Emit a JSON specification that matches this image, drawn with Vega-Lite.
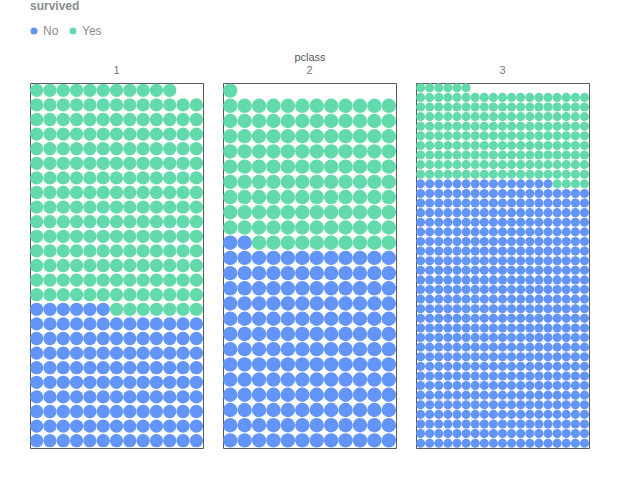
{
"$schema": "https://vega.github.io/schema/vega-lite/v6.json",
"padding": {"left": 29, "top": 1, "right": 5, "bottom": 5},
"bounds": "flush",
"data": {"values": [
{"id":1,"pclass":1,"survived":"No"},{"id":2,"pclass":1,"survived":"No"},{"id":3,"pclass":1,"survived":"No"},{"id":4,"pclass":1,"survived":"No"},{"id":5,"pclass":1,"survived":"No"},{"id":6,"pclass":1,"survived":"No"},{"id":7,"pclass":1,"survived":"No"},{"id":8,"pclass":1,"survived":"No"},{"id":9,"pclass":1,"survived":"No"},{"id":10,"pclass":1,"survived":"No"},
{"id":11,"pclass":1,"survived":"No"},{"id":12,"pclass":1,"survived":"No"},{"id":13,"pclass":1,"survived":"No"},{"id":14,"pclass":1,"survived":"No"},{"id":15,"pclass":1,"survived":"No"},{"id":16,"pclass":1,"survived":"No"},{"id":17,"pclass":1,"survived":"No"},{"id":18,"pclass":1,"survived":"No"},{"id":19,"pclass":1,"survived":"No"},{"id":20,"pclass":1,"survived":"No"},
{"id":21,"pclass":1,"survived":"No"},{"id":22,"pclass":1,"survived":"No"},{"id":23,"pclass":1,"survived":"No"},{"id":24,"pclass":1,"survived":"No"},{"id":25,"pclass":1,"survived":"No"},{"id":26,"pclass":1,"survived":"No"},{"id":27,"pclass":1,"survived":"No"},{"id":28,"pclass":1,"survived":"No"},{"id":29,"pclass":1,"survived":"No"},{"id":30,"pclass":1,"survived":"No"},
{"id":31,"pclass":1,"survived":"No"},{"id":32,"pclass":1,"survived":"No"},{"id":33,"pclass":1,"survived":"No"},{"id":34,"pclass":1,"survived":"No"},{"id":35,"pclass":1,"survived":"No"},{"id":36,"pclass":1,"survived":"No"},{"id":37,"pclass":1,"survived":"No"},{"id":38,"pclass":1,"survived":"No"},{"id":39,"pclass":1,"survived":"No"},{"id":40,"pclass":1,"survived":"No"},
{"id":41,"pclass":1,"survived":"No"},{"id":42,"pclass":1,"survived":"No"},{"id":43,"pclass":1,"survived":"No"},{"id":44,"pclass":1,"survived":"No"},{"id":45,"pclass":1,"survived":"No"},{"id":46,"pclass":1,"survived":"No"},{"id":47,"pclass":1,"survived":"No"},{"id":48,"pclass":1,"survived":"No"},{"id":49,"pclass":1,"survived":"No"},{"id":50,"pclass":1,"survived":"No"},
{"id":51,"pclass":1,"survived":"No"},{"id":52,"pclass":1,"survived":"No"},{"id":53,"pclass":1,"survived":"No"},{"id":54,"pclass":1,"survived":"No"},{"id":55,"pclass":1,"survived":"No"},{"id":56,"pclass":1,"survived":"No"},{"id":57,"pclass":1,"survived":"No"},{"id":58,"pclass":1,"survived":"No"},{"id":59,"pclass":1,"survived":"No"},{"id":60,"pclass":1,"survived":"No"},
{"id":61,"pclass":1,"survived":"No"},{"id":62,"pclass":1,"survived":"No"},{"id":63,"pclass":1,"survived":"No"},{"id":64,"pclass":1,"survived":"No"},{"id":65,"pclass":1,"survived":"No"},{"id":66,"pclass":1,"survived":"No"},{"id":67,"pclass":1,"survived":"No"},{"id":68,"pclass":1,"survived":"No"},{"id":69,"pclass":1,"survived":"No"},{"id":70,"pclass":1,"survived":"No"},
{"id":71,"pclass":1,"survived":"No"},{"id":72,"pclass":1,"survived":"No"},{"id":73,"pclass":1,"survived":"No"},{"id":74,"pclass":1,"survived":"No"},{"id":75,"pclass":1,"survived":"No"},{"id":76,"pclass":1,"survived":"No"},{"id":77,"pclass":1,"survived":"No"},{"id":78,"pclass":1,"survived":"No"},{"id":79,"pclass":1,"survived":"No"},{"id":80,"pclass":1,"survived":"No"},
{"id":81,"pclass":1,"survived":"No"},{"id":82,"pclass":1,"survived":"No"},{"id":83,"pclass":1,"survived":"No"},{"id":84,"pclass":1,"survived":"No"},{"id":85,"pclass":1,"survived":"No"},{"id":86,"pclass":1,"survived":"No"},{"id":87,"pclass":1,"survived":"No"},{"id":88,"pclass":1,"survived":"No"},{"id":89,"pclass":1,"survived":"No"},{"id":90,"pclass":1,"survived":"No"},
{"id":91,"pclass":1,"survived":"No"},{"id":92,"pclass":1,"survived":"No"},{"id":93,"pclass":1,"survived":"No"},{"id":94,"pclass":1,"survived":"No"},{"id":95,"pclass":1,"survived":"No"},{"id":96,"pclass":1,"survived":"No"},{"id":97,"pclass":1,"survived":"No"},{"id":98,"pclass":1,"survived":"No"},{"id":99,"pclass":1,"survived":"No"},{"id":100,"pclass":1,"survived":"No"},
{"id":101,"pclass":1,"survived":"No"},{"id":102,"pclass":1,"survived":"No"},{"id":103,"pclass":1,"survived":"No"},{"id":104,"pclass":1,"survived":"No"},{"id":105,"pclass":1,"survived":"No"},{"id":106,"pclass":1,"survived":"No"},{"id":107,"pclass":1,"survived":"No"},{"id":108,"pclass":1,"survived":"No"},{"id":109,"pclass":1,"survived":"No"},{"id":110,"pclass":1,"survived":"No"},
{"id":111,"pclass":1,"survived":"No"},{"id":112,"pclass":1,"survived":"No"},{"id":113,"pclass":1,"survived":"No"},{"id":114,"pclass":1,"survived":"No"},{"id":115,"pclass":1,"survived":"No"},{"id":116,"pclass":1,"survived":"No"},{"id":117,"pclass":1,"survived":"No"},{"id":118,"pclass":1,"survived":"No"},{"id":119,"pclass":1,"survived":"No"},{"id":120,"pclass":1,"survived":"No"},
{"id":121,"pclass":1,"survived":"No"},{"id":122,"pclass":1,"survived":"No"},{"id":123,"pclass":1,"survived":"No"},{"id":124,"pclass":1,"survived":"Yes"},{"id":125,"pclass":1,"survived":"Yes"},{"id":126,"pclass":1,"survived":"Yes"},{"id":127,"pclass":1,"survived":"Yes"},{"id":128,"pclass":1,"survived":"Yes"},{"id":129,"pclass":1,"survived":"Yes"},{"id":130,"pclass":1,"survived":"Yes"},
{"id":131,"pclass":1,"survived":"Yes"},{"id":132,"pclass":1,"survived":"Yes"},{"id":133,"pclass":1,"survived":"Yes"},{"id":134,"pclass":1,"survived":"Yes"},{"id":135,"pclass":1,"survived":"Yes"},{"id":136,"pclass":1,"survived":"Yes"},{"id":137,"pclass":1,"survived":"Yes"},{"id":138,"pclass":1,"survived":"Yes"},{"id":139,"pclass":1,"survived":"Yes"},{"id":140,"pclass":1,"survived":"Yes"},
{"id":141,"pclass":1,"survived":"Yes"},{"id":142,"pclass":1,"survived":"Yes"},{"id":143,"pclass":1,"survived":"Yes"},{"id":144,"pclass":1,"survived":"Yes"},{"id":145,"pclass":1,"survived":"Yes"},{"id":146,"pclass":1,"survived":"Yes"},{"id":147,"pclass":1,"survived":"Yes"},{"id":148,"pclass":1,"survived":"Yes"},{"id":149,"pclass":1,"survived":"Yes"},{"id":150,"pclass":1,"survived":"Yes"},
{"id":151,"pclass":1,"survived":"Yes"},{"id":152,"pclass":1,"survived":"Yes"},{"id":153,"pclass":1,"survived":"Yes"},{"id":154,"pclass":1,"survived":"Yes"},{"id":155,"pclass":1,"survived":"Yes"},{"id":156,"pclass":1,"survived":"Yes"},{"id":157,"pclass":1,"survived":"Yes"},{"id":158,"pclass":1,"survived":"Yes"},{"id":159,"pclass":1,"survived":"Yes"},{"id":160,"pclass":1,"survived":"Yes"},
{"id":161,"pclass":1,"survived":"Yes"},{"id":162,"pclass":1,"survived":"Yes"},{"id":163,"pclass":1,"survived":"Yes"},{"id":164,"pclass":1,"survived":"Yes"},{"id":165,"pclass":1,"survived":"Yes"},{"id":166,"pclass":1,"survived":"Yes"},{"id":167,"pclass":1,"survived":"Yes"},{"id":168,"pclass":1,"survived":"Yes"},{"id":169,"pclass":1,"survived":"Yes"},{"id":170,"pclass":1,"survived":"Yes"},
{"id":171,"pclass":1,"survived":"Yes"},{"id":172,"pclass":1,"survived":"Yes"},{"id":173,"pclass":1,"survived":"Yes"},{"id":174,"pclass":1,"survived":"Yes"},{"id":175,"pclass":1,"survived":"Yes"},{"id":176,"pclass":1,"survived":"Yes"},{"id":177,"pclass":1,"survived":"Yes"},{"id":178,"pclass":1,"survived":"Yes"},{"id":179,"pclass":1,"survived":"Yes"},{"id":180,"pclass":1,"survived":"Yes"},
{"id":181,"pclass":1,"survived":"Yes"},{"id":182,"pclass":1,"survived":"Yes"},{"id":183,"pclass":1,"survived":"Yes"},{"id":184,"pclass":1,"survived":"Yes"},{"id":185,"pclass":1,"survived":"Yes"},{"id":186,"pclass":1,"survived":"Yes"},{"id":187,"pclass":1,"survived":"Yes"},{"id":188,"pclass":1,"survived":"Yes"},{"id":189,"pclass":1,"survived":"Yes"},{"id":190,"pclass":1,"survived":"Yes"},
{"id":191,"pclass":1,"survived":"Yes"},{"id":192,"pclass":1,"survived":"Yes"},{"id":193,"pclass":1,"survived":"Yes"},{"id":194,"pclass":1,"survived":"Yes"},{"id":195,"pclass":1,"survived":"Yes"},{"id":196,"pclass":1,"survived":"Yes"},{"id":197,"pclass":1,"survived":"Yes"},{"id":198,"pclass":1,"survived":"Yes"},{"id":199,"pclass":1,"survived":"Yes"},{"id":200,"pclass":1,"survived":"Yes"},
{"id":201,"pclass":1,"survived":"Yes"},{"id":202,"pclass":1,"survived":"Yes"},{"id":203,"pclass":1,"survived":"Yes"},{"id":204,"pclass":1,"survived":"Yes"},{"id":205,"pclass":1,"survived":"Yes"},{"id":206,"pclass":1,"survived":"Yes"},{"id":207,"pclass":1,"survived":"Yes"},{"id":208,"pclass":1,"survived":"Yes"},{"id":209,"pclass":1,"survived":"Yes"},{"id":210,"pclass":1,"survived":"Yes"},
{"id":211,"pclass":1,"survived":"Yes"},{"id":212,"pclass":1,"survived":"Yes"},{"id":213,"pclass":1,"survived":"Yes"},{"id":214,"pclass":1,"survived":"Yes"},{"id":215,"pclass":1,"survived":"Yes"},{"id":216,"pclass":1,"survived":"Yes"},{"id":217,"pclass":1,"survived":"Yes"},{"id":218,"pclass":1,"survived":"Yes"},{"id":219,"pclass":1,"survived":"Yes"},{"id":220,"pclass":1,"survived":"Yes"},
{"id":221,"pclass":1,"survived":"Yes"},{"id":222,"pclass":1,"survived":"Yes"},{"id":223,"pclass":1,"survived":"Yes"},{"id":224,"pclass":1,"survived":"Yes"},{"id":225,"pclass":1,"survived":"Yes"},{"id":226,"pclass":1,"survived":"Yes"},{"id":227,"pclass":1,"survived":"Yes"},{"id":228,"pclass":1,"survived":"Yes"},{"id":229,"pclass":1,"survived":"Yes"},{"id":230,"pclass":1,"survived":"Yes"},
{"id":231,"pclass":1,"survived":"Yes"},{"id":232,"pclass":1,"survived":"Yes"},{"id":233,"pclass":1,"survived":"Yes"},{"id":234,"pclass":1,"survived":"Yes"},{"id":235,"pclass":1,"survived":"Yes"},{"id":236,"pclass":1,"survived":"Yes"},{"id":237,"pclass":1,"survived":"Yes"},{"id":238,"pclass":1,"survived":"Yes"},{"id":239,"pclass":1,"survived":"Yes"},{"id":240,"pclass":1,"survived":"Yes"},
{"id":241,"pclass":1,"survived":"Yes"},{"id":242,"pclass":1,"survived":"Yes"},{"id":243,"pclass":1,"survived":"Yes"},{"id":244,"pclass":1,"survived":"Yes"},{"id":245,"pclass":1,"survived":"Yes"},{"id":246,"pclass":1,"survived":"Yes"},{"id":247,"pclass":1,"survived":"Yes"},{"id":248,"pclass":1,"survived":"Yes"},{"id":249,"pclass":1,"survived":"Yes"},{"id":250,"pclass":1,"survived":"Yes"},
{"id":251,"pclass":1,"survived":"Yes"},{"id":252,"pclass":1,"survived":"Yes"},{"id":253,"pclass":1,"survived":"Yes"},{"id":254,"pclass":1,"survived":"Yes"},{"id":255,"pclass":1,"survived":"Yes"},{"id":256,"pclass":1,"survived":"Yes"},{"id":257,"pclass":1,"survived":"Yes"},{"id":258,"pclass":1,"survived":"Yes"},{"id":259,"pclass":1,"survived":"Yes"},{"id":260,"pclass":1,"survived":"Yes"},
{"id":261,"pclass":1,"survived":"Yes"},{"id":262,"pclass":1,"survived":"Yes"},{"id":263,"pclass":1,"survived":"Yes"},{"id":264,"pclass":1,"survived":"Yes"},{"id":265,"pclass":1,"survived":"Yes"},{"id":266,"pclass":1,"survived":"Yes"},{"id":267,"pclass":1,"survived":"Yes"},{"id":268,"pclass":1,"survived":"Yes"},{"id":269,"pclass":1,"survived":"Yes"},{"id":270,"pclass":1,"survived":"Yes"},
{"id":271,"pclass":1,"survived":"Yes"},{"id":272,"pclass":1,"survived":"Yes"},{"id":273,"pclass":1,"survived":"Yes"},{"id":274,"pclass":1,"survived":"Yes"},{"id":275,"pclass":1,"survived":"Yes"},{"id":276,"pclass":1,"survived":"Yes"},{"id":277,"pclass":1,"survived":"Yes"},{"id":278,"pclass":1,"survived":"Yes"},{"id":279,"pclass":1,"survived":"Yes"},{"id":280,"pclass":1,"survived":"Yes"},
{"id":281,"pclass":1,"survived":"Yes"},{"id":282,"pclass":1,"survived":"Yes"},{"id":283,"pclass":1,"survived":"Yes"},{"id":284,"pclass":1,"survived":"Yes"},{"id":285,"pclass":1,"survived":"Yes"},{"id":286,"pclass":1,"survived":"Yes"},{"id":287,"pclass":1,"survived":"Yes"},{"id":288,"pclass":1,"survived":"Yes"},{"id":289,"pclass":1,"survived":"Yes"},{"id":290,"pclass":1,"survived":"Yes"},
{"id":291,"pclass":1,"survived":"Yes"},{"id":292,"pclass":1,"survived":"Yes"},{"id":293,"pclass":1,"survived":"Yes"},{"id":294,"pclass":1,"survived":"Yes"},{"id":295,"pclass":1,"survived":"Yes"},{"id":296,"pclass":1,"survived":"Yes"},{"id":297,"pclass":1,"survived":"Yes"},{"id":298,"pclass":1,"survived":"Yes"},{"id":299,"pclass":1,"survived":"Yes"},{"id":300,"pclass":1,"survived":"Yes"},
{"id":301,"pclass":1,"survived":"Yes"},{"id":302,"pclass":1,"survived":"Yes"},{"id":303,"pclass":1,"survived":"Yes"},{"id":304,"pclass":1,"survived":"Yes"},{"id":305,"pclass":1,"survived":"Yes"},{"id":306,"pclass":1,"survived":"Yes"},{"id":307,"pclass":1,"survived":"Yes"},{"id":308,"pclass":1,"survived":"Yes"},{"id":309,"pclass":1,"survived":"Yes"},{"id":310,"pclass":1,"survived":"Yes"},
{"id":311,"pclass":1,"survived":"Yes"},{"id":312,"pclass":1,"survived":"Yes"},{"id":313,"pclass":1,"survived":"Yes"},{"id":314,"pclass":1,"survived":"Yes"},{"id":315,"pclass":1,"survived":"Yes"},{"id":316,"pclass":1,"survived":"Yes"},{"id":317,"pclass":1,"survived":"Yes"},{"id":318,"pclass":1,"survived":"Yes"},{"id":319,"pclass":1,"survived":"Yes"},{"id":320,"pclass":1,"survived":"Yes"},
{"id":321,"pclass":1,"survived":"Yes"},{"id":322,"pclass":1,"survived":"Yes"},{"id":323,"pclass":1,"survived":"Yes"},{"id":324,"pclass":2,"survived":"No"},{"id":325,"pclass":2,"survived":"No"},{"id":326,"pclass":2,"survived":"No"},{"id":327,"pclass":2,"survived":"No"},{"id":328,"pclass":2,"survived":"No"},{"id":329,"pclass":2,"survived":"No"},{"id":330,"pclass":2,"survived":"No"},
{"id":331,"pclass":2,"survived":"No"},{"id":332,"pclass":2,"survived":"No"},{"id":333,"pclass":2,"survived":"No"},{"id":334,"pclass":2,"survived":"No"},{"id":335,"pclass":2,"survived":"No"},{"id":336,"pclass":2,"survived":"No"},{"id":337,"pclass":2,"survived":"No"},{"id":338,"pclass":2,"survived":"No"},{"id":339,"pclass":2,"survived":"No"},{"id":340,"pclass":2,"survived":"No"},
{"id":341,"pclass":2,"survived":"No"},{"id":342,"pclass":2,"survived":"No"},{"id":343,"pclass":2,"survived":"No"},{"id":344,"pclass":2,"survived":"No"},{"id":345,"pclass":2,"survived":"No"},{"id":346,"pclass":2,"survived":"No"},{"id":347,"pclass":2,"survived":"No"},{"id":348,"pclass":2,"survived":"No"},{"id":349,"pclass":2,"survived":"No"},{"id":350,"pclass":2,"survived":"No"},
{"id":351,"pclass":2,"survived":"No"},{"id":352,"pclass":2,"survived":"No"},{"id":353,"pclass":2,"survived":"No"},{"id":354,"pclass":2,"survived":"No"},{"id":355,"pclass":2,"survived":"No"},{"id":356,"pclass":2,"survived":"No"},{"id":357,"pclass":2,"survived":"No"},{"id":358,"pclass":2,"survived":"No"},{"id":359,"pclass":2,"survived":"No"},{"id":360,"pclass":2,"survived":"No"},
{"id":361,"pclass":2,"survived":"No"},{"id":362,"pclass":2,"survived":"No"},{"id":363,"pclass":2,"survived":"No"},{"id":364,"pclass":2,"survived":"No"},{"id":365,"pclass":2,"survived":"No"},{"id":366,"pclass":2,"survived":"No"},{"id":367,"pclass":2,"survived":"No"},{"id":368,"pclass":2,"survived":"No"},{"id":369,"pclass":2,"survived":"No"},{"id":370,"pclass":2,"survived":"No"},
{"id":371,"pclass":2,"survived":"No"},{"id":372,"pclass":2,"survived":"No"},{"id":373,"pclass":2,"survived":"No"},{"id":374,"pclass":2,"survived":"No"},{"id":375,"pclass":2,"survived":"No"},{"id":376,"pclass":2,"survived":"No"},{"id":377,"pclass":2,"survived":"No"},{"id":378,"pclass":2,"survived":"No"},{"id":379,"pclass":2,"survived":"No"},{"id":380,"pclass":2,"survived":"No"},
{"id":381,"pclass":2,"survived":"No"},{"id":382,"pclass":2,"survived":"No"},{"id":383,"pclass":2,"survived":"No"},{"id":384,"pclass":2,"survived":"No"},{"id":385,"pclass":2,"survived":"No"},{"id":386,"pclass":2,"survived":"No"},{"id":387,"pclass":2,"survived":"No"},{"id":388,"pclass":2,"survived":"No"},{"id":389,"pclass":2,"survived":"No"},{"id":390,"pclass":2,"survived":"No"},
{"id":391,"pclass":2,"survived":"No"},{"id":392,"pclass":2,"survived":"No"},{"id":393,"pclass":2,"survived":"No"},{"id":394,"pclass":2,"survived":"No"},{"id":395,"pclass":2,"survived":"No"},{"id":396,"pclass":2,"survived":"No"},{"id":397,"pclass":2,"survived":"No"},{"id":398,"pclass":2,"survived":"No"},{"id":399,"pclass":2,"survived":"No"},{"id":400,"pclass":2,"survived":"No"},
{"id":401,"pclass":2,"survived":"No"},{"id":402,"pclass":2,"survived":"No"},{"id":403,"pclass":2,"survived":"No"},{"id":404,"pclass":2,"survived":"No"},{"id":405,"pclass":2,"survived":"No"},{"id":406,"pclass":2,"survived":"No"},{"id":407,"pclass":2,"survived":"No"},{"id":408,"pclass":2,"survived":"No"},{"id":409,"pclass":2,"survived":"No"},{"id":410,"pclass":2,"survived":"No"},
{"id":411,"pclass":2,"survived":"No"},{"id":412,"pclass":2,"survived":"No"},{"id":413,"pclass":2,"survived":"No"},{"id":414,"pclass":2,"survived":"No"},{"id":415,"pclass":2,"survived":"No"},{"id":416,"pclass":2,"survived":"No"},{"id":417,"pclass":2,"survived":"No"},{"id":418,"pclass":2,"survived":"No"},{"id":419,"pclass":2,"survived":"No"},{"id":420,"pclass":2,"survived":"No"},
{"id":421,"pclass":2,"survived":"No"},{"id":422,"pclass":2,"survived":"No"},{"id":423,"pclass":2,"survived":"No"},{"id":424,"pclass":2,"survived":"No"},{"id":425,"pclass":2,"survived":"No"},{"id":426,"pclass":2,"survived":"No"},{"id":427,"pclass":2,"survived":"No"},{"id":428,"pclass":2,"survived":"No"},{"id":429,"pclass":2,"survived":"No"},{"id":430,"pclass":2,"survived":"No"},
{"id":431,"pclass":2,"survived":"No"},{"id":432,"pclass":2,"survived":"No"},{"id":433,"pclass":2,"survived":"No"},{"id":434,"pclass":2,"survived":"No"},{"id":435,"pclass":2,"survived":"No"},{"id":436,"pclass":2,"survived":"No"},{"id":437,"pclass":2,"survived":"No"},{"id":438,"pclass":2,"survived":"No"},{"id":439,"pclass":2,"survived":"No"},{"id":440,"pclass":2,"survived":"No"},
{"id":441,"pclass":2,"survived":"No"},{"id":442,"pclass":2,"survived":"No"},{"id":443,"pclass":2,"survived":"No"},{"id":444,"pclass":2,"survived":"No"},{"id":445,"pclass":2,"survived":"No"},{"id":446,"pclass":2,"survived":"No"},{"id":447,"pclass":2,"survived":"No"},{"id":448,"pclass":2,"survived":"No"},{"id":449,"pclass":2,"survived":"No"},{"id":450,"pclass":2,"survived":"No"},
{"id":451,"pclass":2,"survived":"No"},{"id":452,"pclass":2,"survived":"No"},{"id":453,"pclass":2,"survived":"No"},{"id":454,"pclass":2,"survived":"No"},{"id":455,"pclass":2,"survived":"No"},{"id":456,"pclass":2,"survived":"No"},{"id":457,"pclass":2,"survived":"No"},{"id":458,"pclass":2,"survived":"No"},{"id":459,"pclass":2,"survived":"No"},{"id":460,"pclass":2,"survived":"No"},
{"id":461,"pclass":2,"survived":"No"},{"id":462,"pclass":2,"survived":"No"},{"id":463,"pclass":2,"survived":"No"},{"id":464,"pclass":2,"survived":"No"},{"id":465,"pclass":2,"survived":"No"},{"id":466,"pclass":2,"survived":"No"},{"id":467,"pclass":2,"survived":"No"},{"id":468,"pclass":2,"survived":"No"},{"id":469,"pclass":2,"survived":"No"},{"id":470,"pclass":2,"survived":"No"},
{"id":471,"pclass":2,"survived":"No"},{"id":472,"pclass":2,"survived":"No"},{"id":473,"pclass":2,"survived":"No"},{"id":474,"pclass":2,"survived":"No"},{"id":475,"pclass":2,"survived":"No"},{"id":476,"pclass":2,"survived":"No"},{"id":477,"pclass":2,"survived":"No"},{"id":478,"pclass":2,"survived":"No"},{"id":479,"pclass":2,"survived":"No"},{"id":480,"pclass":2,"survived":"No"},
{"id":481,"pclass":2,"survived":"No"},{"id":482,"pclass":2,"survived":"Yes"},{"id":483,"pclass":2,"survived":"Yes"},{"id":484,"pclass":2,"survived":"Yes"},{"id":485,"pclass":2,"survived":"Yes"},{"id":486,"pclass":2,"survived":"Yes"},{"id":487,"pclass":2,"survived":"Yes"},{"id":488,"pclass":2,"survived":"Yes"},{"id":489,"pclass":2,"survived":"Yes"},{"id":490,"pclass":2,"survived":"Yes"},
{"id":491,"pclass":2,"survived":"Yes"},{"id":492,"pclass":2,"survived":"Yes"},{"id":493,"pclass":2,"survived":"Yes"},{"id":494,"pclass":2,"survived":"Yes"},{"id":495,"pclass":2,"survived":"Yes"},{"id":496,"pclass":2,"survived":"Yes"},{"id":497,"pclass":2,"survived":"Yes"},{"id":498,"pclass":2,"survived":"Yes"},{"id":499,"pclass":2,"survived":"Yes"},{"id":500,"pclass":2,"survived":"Yes"},
{"id":501,"pclass":2,"survived":"Yes"},{"id":502,"pclass":2,"survived":"Yes"},{"id":503,"pclass":2,"survived":"Yes"},{"id":504,"pclass":2,"survived":"Yes"},{"id":505,"pclass":2,"survived":"Yes"},{"id":506,"pclass":2,"survived":"Yes"},{"id":507,"pclass":2,"survived":"Yes"},{"id":508,"pclass":2,"survived":"Yes"},{"id":509,"pclass":2,"survived":"Yes"},{"id":510,"pclass":2,"survived":"Yes"},
{"id":511,"pclass":2,"survived":"Yes"},{"id":512,"pclass":2,"survived":"Yes"},{"id":513,"pclass":2,"survived":"Yes"},{"id":514,"pclass":2,"survived":"Yes"},{"id":515,"pclass":2,"survived":"Yes"},{"id":516,"pclass":2,"survived":"Yes"},{"id":517,"pclass":2,"survived":"Yes"},{"id":518,"pclass":2,"survived":"Yes"},{"id":519,"pclass":2,"survived":"Yes"},{"id":520,"pclass":2,"survived":"Yes"},
{"id":521,"pclass":2,"survived":"Yes"},{"id":522,"pclass":2,"survived":"Yes"},{"id":523,"pclass":2,"survived":"Yes"},{"id":524,"pclass":2,"survived":"Yes"},{"id":525,"pclass":2,"survived":"Yes"},{"id":526,"pclass":2,"survived":"Yes"},{"id":527,"pclass":2,"survived":"Yes"},{"id":528,"pclass":2,"survived":"Yes"},{"id":529,"pclass":2,"survived":"Yes"},{"id":530,"pclass":2,"survived":"Yes"},
{"id":531,"pclass":2,"survived":"Yes"},{"id":532,"pclass":2,"survived":"Yes"},{"id":533,"pclass":2,"survived":"Yes"},{"id":534,"pclass":2,"survived":"Yes"},{"id":535,"pclass":2,"survived":"Yes"},{"id":536,"pclass":2,"survived":"Yes"},{"id":537,"pclass":2,"survived":"Yes"},{"id":538,"pclass":2,"survived":"Yes"},{"id":539,"pclass":2,"survived":"Yes"},{"id":540,"pclass":2,"survived":"Yes"},
{"id":541,"pclass":2,"survived":"Yes"},{"id":542,"pclass":2,"survived":"Yes"},{"id":543,"pclass":2,"survived":"Yes"},{"id":544,"pclass":2,"survived":"Yes"},{"id":545,"pclass":2,"survived":"Yes"},{"id":546,"pclass":2,"survived":"Yes"},{"id":547,"pclass":2,"survived":"Yes"},{"id":548,"pclass":2,"survived":"Yes"},{"id":549,"pclass":2,"survived":"Yes"},{"id":550,"pclass":2,"survived":"Yes"},
{"id":551,"pclass":2,"survived":"Yes"},{"id":552,"pclass":2,"survived":"Yes"},{"id":553,"pclass":2,"survived":"Yes"},{"id":554,"pclass":2,"survived":"Yes"},{"id":555,"pclass":2,"survived":"Yes"},{"id":556,"pclass":2,"survived":"Yes"},{"id":557,"pclass":2,"survived":"Yes"},{"id":558,"pclass":2,"survived":"Yes"},{"id":559,"pclass":2,"survived":"Yes"},{"id":560,"pclass":2,"survived":"Yes"},
{"id":561,"pclass":2,"survived":"Yes"},{"id":562,"pclass":2,"survived":"Yes"},{"id":563,"pclass":2,"survived":"Yes"},{"id":564,"pclass":2,"survived":"Yes"},{"id":565,"pclass":2,"survived":"Yes"},{"id":566,"pclass":2,"survived":"Yes"},{"id":567,"pclass":2,"survived":"Yes"},{"id":568,"pclass":2,"survived":"Yes"},{"id":569,"pclass":2,"survived":"Yes"},{"id":570,"pclass":2,"survived":"Yes"},
{"id":571,"pclass":2,"survived":"Yes"},{"id":572,"pclass":2,"survived":"Yes"},{"id":573,"pclass":2,"survived":"Yes"},{"id":574,"pclass":2,"survived":"Yes"},{"id":575,"pclass":2,"survived":"Yes"},{"id":576,"pclass":2,"survived":"Yes"},{"id":577,"pclass":2,"survived":"Yes"},{"id":578,"pclass":2,"survived":"Yes"},{"id":579,"pclass":2,"survived":"Yes"},{"id":580,"pclass":2,"survived":"Yes"},
{"id":581,"pclass":2,"survived":"Yes"},{"id":582,"pclass":2,"survived":"Yes"},{"id":583,"pclass":2,"survived":"Yes"},{"id":584,"pclass":2,"survived":"Yes"},{"id":585,"pclass":2,"survived":"Yes"},{"id":586,"pclass":2,"survived":"Yes"},{"id":587,"pclass":2,"survived":"Yes"},{"id":588,"pclass":2,"survived":"Yes"},{"id":589,"pclass":2,"survived":"Yes"},{"id":590,"pclass":2,"survived":"Yes"},
{"id":591,"pclass":2,"survived":"Yes"},{"id":592,"pclass":2,"survived":"Yes"},{"id":593,"pclass":2,"survived":"Yes"},{"id":594,"pclass":2,"survived":"Yes"},{"id":595,"pclass":2,"survived":"Yes"},{"id":596,"pclass":2,"survived":"Yes"},{"id":597,"pclass":2,"survived":"Yes"},{"id":598,"pclass":2,"survived":"Yes"},{"id":599,"pclass":2,"survived":"Yes"},{"id":600,"pclass":2,"survived":"Yes"},
{"id":601,"pclass":3,"survived":"No"},{"id":602,"pclass":3,"survived":"No"},{"id":603,"pclass":3,"survived":"No"},{"id":604,"pclass":3,"survived":"No"},{"id":605,"pclass":3,"survived":"No"},{"id":606,"pclass":3,"survived":"No"},{"id":607,"pclass":3,"survived":"No"},{"id":608,"pclass":3,"survived":"No"},{"id":609,"pclass":3,"survived":"No"},{"id":610,"pclass":3,"survived":"No"},
{"id":611,"pclass":3,"survived":"No"},{"id":612,"pclass":3,"survived":"No"},{"id":613,"pclass":3,"survived":"No"},{"id":614,"pclass":3,"survived":"No"},{"id":615,"pclass":3,"survived":"No"},{"id":616,"pclass":3,"survived":"No"},{"id":617,"pclass":3,"survived":"No"},{"id":618,"pclass":3,"survived":"No"},{"id":619,"pclass":3,"survived":"No"},{"id":620,"pclass":3,"survived":"No"},
{"id":621,"pclass":3,"survived":"No"},{"id":622,"pclass":3,"survived":"No"},{"id":623,"pclass":3,"survived":"No"},{"id":624,"pclass":3,"survived":"No"},{"id":625,"pclass":3,"survived":"No"},{"id":626,"pclass":3,"survived":"No"},{"id":627,"pclass":3,"survived":"No"},{"id":628,"pclass":3,"survived":"No"},{"id":629,"pclass":3,"survived":"No"},{"id":630,"pclass":3,"survived":"No"},
{"id":631,"pclass":3,"survived":"No"},{"id":632,"pclass":3,"survived":"No"},{"id":633,"pclass":3,"survived":"No"},{"id":634,"pclass":3,"survived":"No"},{"id":635,"pclass":3,"survived":"No"},{"id":636,"pclass":3,"survived":"No"},{"id":637,"pclass":3,"survived":"No"},{"id":638,"pclass":3,"survived":"No"},{"id":639,"pclass":3,"survived":"No"},{"id":640,"pclass":3,"survived":"No"},
{"id":641,"pclass":3,"survived":"No"},{"id":642,"pclass":3,"survived":"No"},{"id":643,"pclass":3,"survived":"No"},{"id":644,"pclass":3,"survived":"No"},{"id":645,"pclass":3,"survived":"No"},{"id":646,"pclass":3,"survived":"No"},{"id":647,"pclass":3,"survived":"No"},{"id":648,"pclass":3,"survived":"No"},{"id":649,"pclass":3,"survived":"No"},{"id":650,"pclass":3,"survived":"No"},
{"id":651,"pclass":3,"survived":"No"},{"id":652,"pclass":3,"survived":"No"},{"id":653,"pclass":3,"survived":"No"},{"id":654,"pclass":3,"survived":"No"},{"id":655,"pclass":3,"survived":"No"},{"id":656,"pclass":3,"survived":"No"},{"id":657,"pclass":3,"survived":"No"},{"id":658,"pclass":3,"survived":"No"},{"id":659,"pclass":3,"survived":"No"},{"id":660,"pclass":3,"survived":"No"},
{"id":661,"pclass":3,"survived":"No"},{"id":662,"pclass":3,"survived":"No"},{"id":663,"pclass":3,"survived":"No"},{"id":664,"pclass":3,"survived":"No"},{"id":665,"pclass":3,"survived":"No"},{"id":666,"pclass":3,"survived":"No"},{"id":667,"pclass":3,"survived":"No"},{"id":668,"pclass":3,"survived":"No"},{"id":669,"pclass":3,"survived":"No"},{"id":670,"pclass":3,"survived":"No"},
{"id":671,"pclass":3,"survived":"No"},{"id":672,"pclass":3,"survived":"No"},{"id":673,"pclass":3,"survived":"No"},{"id":674,"pclass":3,"survived":"No"},{"id":675,"pclass":3,"survived":"No"},{"id":676,"pclass":3,"survived":"No"},{"id":677,"pclass":3,"survived":"No"},{"id":678,"pclass":3,"survived":"No"},{"id":679,"pclass":3,"survived":"No"},{"id":680,"pclass":3,"survived":"No"},
{"id":681,"pclass":3,"survived":"No"},{"id":682,"pclass":3,"survived":"No"},{"id":683,"pclass":3,"survived":"No"},{"id":684,"pclass":3,"survived":"No"},{"id":685,"pclass":3,"survived":"No"},{"id":686,"pclass":3,"survived":"No"},{"id":687,"pclass":3,"survived":"No"},{"id":688,"pclass":3,"survived":"No"},{"id":689,"pclass":3,"survived":"No"},{"id":690,"pclass":3,"survived":"No"},
{"id":691,"pclass":3,"survived":"No"},{"id":692,"pclass":3,"survived":"No"},{"id":693,"pclass":3,"survived":"No"},{"id":694,"pclass":3,"survived":"No"},{"id":695,"pclass":3,"survived":"No"},{"id":696,"pclass":3,"survived":"No"},{"id":697,"pclass":3,"survived":"No"},{"id":698,"pclass":3,"survived":"No"},{"id":699,"pclass":3,"survived":"No"},{"id":700,"pclass":3,"survived":"No"},
{"id":701,"pclass":3,"survived":"No"},{"id":702,"pclass":3,"survived":"No"},{"id":703,"pclass":3,"survived":"No"},{"id":704,"pclass":3,"survived":"No"},{"id":705,"pclass":3,"survived":"No"},{"id":706,"pclass":3,"survived":"No"},{"id":707,"pclass":3,"survived":"No"},{"id":708,"pclass":3,"survived":"No"},{"id":709,"pclass":3,"survived":"No"},{"id":710,"pclass":3,"survived":"No"},
{"id":711,"pclass":3,"survived":"No"},{"id":712,"pclass":3,"survived":"No"},{"id":713,"pclass":3,"survived":"No"},{"id":714,"pclass":3,"survived":"No"},{"id":715,"pclass":3,"survived":"No"},{"id":716,"pclass":3,"survived":"No"},{"id":717,"pclass":3,"survived":"No"},{"id":718,"pclass":3,"survived":"No"},{"id":719,"pclass":3,"survived":"No"},{"id":720,"pclass":3,"survived":"No"},
{"id":721,"pclass":3,"survived":"No"},{"id":722,"pclass":3,"survived":"No"},{"id":723,"pclass":3,"survived":"No"},{"id":724,"pclass":3,"survived":"No"},{"id":725,"pclass":3,"survived":"No"},{"id":726,"pclass":3,"survived":"No"},{"id":727,"pclass":3,"survived":"No"},{"id":728,"pclass":3,"survived":"No"},{"id":729,"pclass":3,"survived":"No"},{"id":730,"pclass":3,"survived":"No"},
{"id":731,"pclass":3,"survived":"No"},{"id":732,"pclass":3,"survived":"No"},{"id":733,"pclass":3,"survived":"No"},{"id":734,"pclass":3,"survived":"No"},{"id":735,"pclass":3,"survived":"No"},{"id":736,"pclass":3,"survived":"No"},{"id":737,"pclass":3,"survived":"No"},{"id":738,"pclass":3,"survived":"No"},{"id":739,"pclass":3,"survived":"No"},{"id":740,"pclass":3,"survived":"No"},
{"id":741,"pclass":3,"survived":"No"},{"id":742,"pclass":3,"survived":"No"},{"id":743,"pclass":3,"survived":"No"},{"id":744,"pclass":3,"survived":"No"},{"id":745,"pclass":3,"survived":"No"},{"id":746,"pclass":3,"survived":"No"},{"id":747,"pclass":3,"survived":"No"},{"id":748,"pclass":3,"survived":"No"},{"id":749,"pclass":3,"survived":"No"},{"id":750,"pclass":3,"survived":"No"},
{"id":751,"pclass":3,"survived":"No"},{"id":752,"pclass":3,"survived":"No"},{"id":753,"pclass":3,"survived":"No"},{"id":754,"pclass":3,"survived":"No"},{"id":755,"pclass":3,"survived":"No"},{"id":756,"pclass":3,"survived":"No"},{"id":757,"pclass":3,"survived":"No"},{"id":758,"pclass":3,"survived":"No"},{"id":759,"pclass":3,"survived":"No"},{"id":760,"pclass":3,"survived":"No"},
{"id":761,"pclass":3,"survived":"No"},{"id":762,"pclass":3,"survived":"No"},{"id":763,"pclass":3,"survived":"No"},{"id":764,"pclass":3,"survived":"No"},{"id":765,"pclass":3,"survived":"No"},{"id":766,"pclass":3,"survived":"No"},{"id":767,"pclass":3,"survived":"No"},{"id":768,"pclass":3,"survived":"No"},{"id":769,"pclass":3,"survived":"No"},{"id":770,"pclass":3,"survived":"No"},
{"id":771,"pclass":3,"survived":"No"},{"id":772,"pclass":3,"survived":"No"},{"id":773,"pclass":3,"survived":"No"},{"id":774,"pclass":3,"survived":"No"},{"id":775,"pclass":3,"survived":"No"},{"id":776,"pclass":3,"survived":"No"},{"id":777,"pclass":3,"survived":"No"},{"id":778,"pclass":3,"survived":"No"},{"id":779,"pclass":3,"survived":"No"},{"id":780,"pclass":3,"survived":"No"},
{"id":781,"pclass":3,"survived":"No"},{"id":782,"pclass":3,"survived":"No"},{"id":783,"pclass":3,"survived":"No"},{"id":784,"pclass":3,"survived":"No"},{"id":785,"pclass":3,"survived":"No"},{"id":786,"pclass":3,"survived":"No"},{"id":787,"pclass":3,"survived":"No"},{"id":788,"pclass":3,"survived":"No"},{"id":789,"pclass":3,"survived":"No"},{"id":790,"pclass":3,"survived":"No"},
{"id":791,"pclass":3,"survived":"No"},{"id":792,"pclass":3,"survived":"No"},{"id":793,"pclass":3,"survived":"No"},{"id":794,"pclass":3,"survived":"No"},{"id":795,"pclass":3,"survived":"No"},{"id":796,"pclass":3,"survived":"No"},{"id":797,"pclass":3,"survived":"No"},{"id":798,"pclass":3,"survived":"No"},{"id":799,"pclass":3,"survived":"No"},{"id":800,"pclass":3,"survived":"No"},
{"id":801,"pclass":3,"survived":"No"},{"id":802,"pclass":3,"survived":"No"},{"id":803,"pclass":3,"survived":"No"},{"id":804,"pclass":3,"survived":"No"},{"id":805,"pclass":3,"survived":"No"},{"id":806,"pclass":3,"survived":"No"},{"id":807,"pclass":3,"survived":"No"},{"id":808,"pclass":3,"survived":"No"},{"id":809,"pclass":3,"survived":"No"},{"id":810,"pclass":3,"survived":"No"},
{"id":811,"pclass":3,"survived":"No"},{"id":812,"pclass":3,"survived":"No"},{"id":813,"pclass":3,"survived":"No"},{"id":814,"pclass":3,"survived":"No"},{"id":815,"pclass":3,"survived":"No"},{"id":816,"pclass":3,"survived":"No"},{"id":817,"pclass":3,"survived":"No"},{"id":818,"pclass":3,"survived":"No"},{"id":819,"pclass":3,"survived":"No"},{"id":820,"pclass":3,"survived":"No"},
{"id":821,"pclass":3,"survived":"No"},{"id":822,"pclass":3,"survived":"No"},{"id":823,"pclass":3,"survived":"No"},{"id":824,"pclass":3,"survived":"No"},{"id":825,"pclass":3,"survived":"No"},{"id":826,"pclass":3,"survived":"No"},{"id":827,"pclass":3,"survived":"No"},{"id":828,"pclass":3,"survived":"No"},{"id":829,"pclass":3,"survived":"No"},{"id":830,"pclass":3,"survived":"No"},
{"id":831,"pclass":3,"survived":"No"},{"id":832,"pclass":3,"survived":"No"},{"id":833,"pclass":3,"survived":"No"},{"id":834,"pclass":3,"survived":"No"},{"id":835,"pclass":3,"survived":"No"},{"id":836,"pclass":3,"survived":"No"},{"id":837,"pclass":3,"survived":"No"},{"id":838,"pclass":3,"survived":"No"},{"id":839,"pclass":3,"survived":"No"},{"id":840,"pclass":3,"survived":"No"},
{"id":841,"pclass":3,"survived":"No"},{"id":842,"pclass":3,"survived":"No"},{"id":843,"pclass":3,"survived":"No"},{"id":844,"pclass":3,"survived":"No"},{"id":845,"pclass":3,"survived":"No"},{"id":846,"pclass":3,"survived":"No"},{"id":847,"pclass":3,"survived":"No"},{"id":848,"pclass":3,"survived":"No"},{"id":849,"pclass":3,"survived":"No"},{"id":850,"pclass":3,"survived":"No"},
{"id":851,"pclass":3,"survived":"No"},{"id":852,"pclass":3,"survived":"No"},{"id":853,"pclass":3,"survived":"No"},{"id":854,"pclass":3,"survived":"No"},{"id":855,"pclass":3,"survived":"No"},{"id":856,"pclass":3,"survived":"No"},{"id":857,"pclass":3,"survived":"No"},{"id":858,"pclass":3,"survived":"No"},{"id":859,"pclass":3,"survived":"No"},{"id":860,"pclass":3,"survived":"No"},
{"id":861,"pclass":3,"survived":"No"},{"id":862,"pclass":3,"survived":"No"},{"id":863,"pclass":3,"survived":"No"},{"id":864,"pclass":3,"survived":"No"},{"id":865,"pclass":3,"survived":"No"},{"id":866,"pclass":3,"survived":"No"},{"id":867,"pclass":3,"survived":"No"},{"id":868,"pclass":3,"survived":"No"},{"id":869,"pclass":3,"survived":"No"},{"id":870,"pclass":3,"survived":"No"},
{"id":871,"pclass":3,"survived":"No"},{"id":872,"pclass":3,"survived":"No"},{"id":873,"pclass":3,"survived":"No"},{"id":874,"pclass":3,"survived":"No"},{"id":875,"pclass":3,"survived":"No"},{"id":876,"pclass":3,"survived":"No"},{"id":877,"pclass":3,"survived":"No"},{"id":878,"pclass":3,"survived":"No"},{"id":879,"pclass":3,"survived":"No"},{"id":880,"pclass":3,"survived":"No"},
{"id":881,"pclass":3,"survived":"No"},{"id":882,"pclass":3,"survived":"No"},{"id":883,"pclass":3,"survived":"No"},{"id":884,"pclass":3,"survived":"No"},{"id":885,"pclass":3,"survived":"No"},{"id":886,"pclass":3,"survived":"No"},{"id":887,"pclass":3,"survived":"No"},{"id":888,"pclass":3,"survived":"No"},{"id":889,"pclass":3,"survived":"No"},{"id":890,"pclass":3,"survived":"No"},
{"id":891,"pclass":3,"survived":"No"},{"id":892,"pclass":3,"survived":"No"},{"id":893,"pclass":3,"survived":"No"},{"id":894,"pclass":3,"survived":"No"},{"id":895,"pclass":3,"survived":"No"},{"id":896,"pclass":3,"survived":"No"},{"id":897,"pclass":3,"survived":"No"},{"id":898,"pclass":3,"survived":"No"},{"id":899,"pclass":3,"survived":"No"},{"id":900,"pclass":3,"survived":"No"},
{"id":901,"pclass":3,"survived":"No"},{"id":902,"pclass":3,"survived":"No"},{"id":903,"pclass":3,"survived":"No"},{"id":904,"pclass":3,"survived":"No"},{"id":905,"pclass":3,"survived":"No"},{"id":906,"pclass":3,"survived":"No"},{"id":907,"pclass":3,"survived":"No"},{"id":908,"pclass":3,"survived":"No"},{"id":909,"pclass":3,"survived":"No"},{"id":910,"pclass":3,"survived":"No"},
{"id":911,"pclass":3,"survived":"No"},{"id":912,"pclass":3,"survived":"No"},{"id":913,"pclass":3,"survived":"No"},{"id":914,"pclass":3,"survived":"No"},{"id":915,"pclass":3,"survived":"No"},{"id":916,"pclass":3,"survived":"No"},{"id":917,"pclass":3,"survived":"No"},{"id":918,"pclass":3,"survived":"No"},{"id":919,"pclass":3,"survived":"No"},{"id":920,"pclass":3,"survived":"No"},
{"id":921,"pclass":3,"survived":"No"},{"id":922,"pclass":3,"survived":"No"},{"id":923,"pclass":3,"survived":"No"},{"id":924,"pclass":3,"survived":"No"},{"id":925,"pclass":3,"survived":"No"},{"id":926,"pclass":3,"survived":"No"},{"id":927,"pclass":3,"survived":"No"},{"id":928,"pclass":3,"survived":"No"},{"id":929,"pclass":3,"survived":"No"},{"id":930,"pclass":3,"survived":"No"},
{"id":931,"pclass":3,"survived":"No"},{"id":932,"pclass":3,"survived":"No"},{"id":933,"pclass":3,"survived":"No"},{"id":934,"pclass":3,"survived":"No"},{"id":935,"pclass":3,"survived":"No"},{"id":936,"pclass":3,"survived":"No"},{"id":937,"pclass":3,"survived":"No"},{"id":938,"pclass":3,"survived":"No"},{"id":939,"pclass":3,"survived":"No"},{"id":940,"pclass":3,"survived":"No"},
{"id":941,"pclass":3,"survived":"No"},{"id":942,"pclass":3,"survived":"No"},{"id":943,"pclass":3,"survived":"No"},{"id":944,"pclass":3,"survived":"No"},{"id":945,"pclass":3,"survived":"No"},{"id":946,"pclass":3,"survived":"No"},{"id":947,"pclass":3,"survived":"No"},{"id":948,"pclass":3,"survived":"No"},{"id":949,"pclass":3,"survived":"No"},{"id":950,"pclass":3,"survived":"No"},
{"id":951,"pclass":3,"survived":"No"},{"id":952,"pclass":3,"survived":"No"},{"id":953,"pclass":3,"survived":"No"},{"id":954,"pclass":3,"survived":"No"},{"id":955,"pclass":3,"survived":"No"},{"id":956,"pclass":3,"survived":"No"},{"id":957,"pclass":3,"survived":"No"},{"id":958,"pclass":3,"survived":"No"},{"id":959,"pclass":3,"survived":"No"},{"id":960,"pclass":3,"survived":"No"},
{"id":961,"pclass":3,"survived":"No"},{"id":962,"pclass":3,"survived":"No"},{"id":963,"pclass":3,"survived":"No"},{"id":964,"pclass":3,"survived":"No"},{"id":965,"pclass":3,"survived":"No"},{"id":966,"pclass":3,"survived":"No"},{"id":967,"pclass":3,"survived":"No"},{"id":968,"pclass":3,"survived":"No"},{"id":969,"pclass":3,"survived":"No"},{"id":970,"pclass":3,"survived":"No"},
{"id":971,"pclass":3,"survived":"No"},{"id":972,"pclass":3,"survived":"No"},{"id":973,"pclass":3,"survived":"No"},{"id":974,"pclass":3,"survived":"No"},{"id":975,"pclass":3,"survived":"No"},{"id":976,"pclass":3,"survived":"No"},{"id":977,"pclass":3,"survived":"No"},{"id":978,"pclass":3,"survived":"No"},{"id":979,"pclass":3,"survived":"No"},{"id":980,"pclass":3,"survived":"No"},
{"id":981,"pclass":3,"survived":"No"},{"id":982,"pclass":3,"survived":"No"},{"id":983,"pclass":3,"survived":"No"},{"id":984,"pclass":3,"survived":"No"},{"id":985,"pclass":3,"survived":"No"},{"id":986,"pclass":3,"survived":"No"},{"id":987,"pclass":3,"survived":"No"},{"id":988,"pclass":3,"survived":"No"},{"id":989,"pclass":3,"survived":"No"},{"id":990,"pclass":3,"survived":"No"},
{"id":991,"pclass":3,"survived":"No"},{"id":992,"pclass":3,"survived":"No"},{"id":993,"pclass":3,"survived":"No"},{"id":994,"pclass":3,"survived":"No"},{"id":995,"pclass":3,"survived":"No"},{"id":996,"pclass":3,"survived":"No"},{"id":997,"pclass":3,"survived":"No"},{"id":998,"pclass":3,"survived":"No"},{"id":999,"pclass":3,"survived":"No"},{"id":1000,"pclass":3,"survived":"No"},
{"id":1001,"pclass":3,"survived":"No"},{"id":1002,"pclass":3,"survived":"No"},{"id":1003,"pclass":3,"survived":"No"},{"id":1004,"pclass":3,"survived":"No"},{"id":1005,"pclass":3,"survived":"No"},{"id":1006,"pclass":3,"survived":"No"},{"id":1007,"pclass":3,"survived":"No"},{"id":1008,"pclass":3,"survived":"No"},{"id":1009,"pclass":3,"survived":"No"},{"id":1010,"pclass":3,"survived":"No"},
{"id":1011,"pclass":3,"survived":"No"},{"id":1012,"pclass":3,"survived":"No"},{"id":1013,"pclass":3,"survived":"No"},{"id":1014,"pclass":3,"survived":"No"},{"id":1015,"pclass":3,"survived":"No"},{"id":1016,"pclass":3,"survived":"No"},{"id":1017,"pclass":3,"survived":"No"},{"id":1018,"pclass":3,"survived":"No"},{"id":1019,"pclass":3,"survived":"No"},{"id":1020,"pclass":3,"survived":"No"},
{"id":1021,"pclass":3,"survived":"No"},{"id":1022,"pclass":3,"survived":"No"},{"id":1023,"pclass":3,"survived":"No"},{"id":1024,"pclass":3,"survived":"No"},{"id":1025,"pclass":3,"survived":"No"},{"id":1026,"pclass":3,"survived":"No"},{"id":1027,"pclass":3,"survived":"No"},{"id":1028,"pclass":3,"survived":"No"},{"id":1029,"pclass":3,"survived":"No"},{"id":1030,"pclass":3,"survived":"No"},
{"id":1031,"pclass":3,"survived":"No"},{"id":1032,"pclass":3,"survived":"No"},{"id":1033,"pclass":3,"survived":"No"},{"id":1034,"pclass":3,"survived":"No"},{"id":1035,"pclass":3,"survived":"No"},{"id":1036,"pclass":3,"survived":"No"},{"id":1037,"pclass":3,"survived":"No"},{"id":1038,"pclass":3,"survived":"No"},{"id":1039,"pclass":3,"survived":"No"},{"id":1040,"pclass":3,"survived":"No"},
{"id":1041,"pclass":3,"survived":"No"},{"id":1042,"pclass":3,"survived":"No"},{"id":1043,"pclass":3,"survived":"No"},{"id":1044,"pclass":3,"survived":"No"},{"id":1045,"pclass":3,"survived":"No"},{"id":1046,"pclass":3,"survived":"No"},{"id":1047,"pclass":3,"survived":"No"},{"id":1048,"pclass":3,"survived":"No"},{"id":1049,"pclass":3,"survived":"No"},{"id":1050,"pclass":3,"survived":"No"},
{"id":1051,"pclass":3,"survived":"No"},{"id":1052,"pclass":3,"survived":"No"},{"id":1053,"pclass":3,"survived":"No"},{"id":1054,"pclass":3,"survived":"No"},{"id":1055,"pclass":3,"survived":"No"},{"id":1056,"pclass":3,"survived":"No"},{"id":1057,"pclass":3,"survived":"No"},{"id":1058,"pclass":3,"survived":"No"},{"id":1059,"pclass":3,"survived":"No"},{"id":1060,"pclass":3,"survived":"No"},
{"id":1061,"pclass":3,"survived":"No"},{"id":1062,"pclass":3,"survived":"No"},{"id":1063,"pclass":3,"survived":"No"},{"id":1064,"pclass":3,"survived":"No"},{"id":1065,"pclass":3,"survived":"No"},{"id":1066,"pclass":3,"survived":"No"},{"id":1067,"pclass":3,"survived":"No"},{"id":1068,"pclass":3,"survived":"No"},{"id":1069,"pclass":3,"survived":"No"},{"id":1070,"pclass":3,"survived":"No"},
{"id":1071,"pclass":3,"survived":"No"},{"id":1072,"pclass":3,"survived":"No"},{"id":1073,"pclass":3,"survived":"No"},{"id":1074,"pclass":3,"survived":"No"},{"id":1075,"pclass":3,"survived":"No"},{"id":1076,"pclass":3,"survived":"No"},{"id":1077,"pclass":3,"survived":"No"},{"id":1078,"pclass":3,"survived":"No"},{"id":1079,"pclass":3,"survived":"No"},{"id":1080,"pclass":3,"survived":"No"},
{"id":1081,"pclass":3,"survived":"No"},{"id":1082,"pclass":3,"survived":"No"},{"id":1083,"pclass":3,"survived":"No"},{"id":1084,"pclass":3,"survived":"No"},{"id":1085,"pclass":3,"survived":"No"},{"id":1086,"pclass":3,"survived":"No"},{"id":1087,"pclass":3,"survived":"No"},{"id":1088,"pclass":3,"survived":"No"},{"id":1089,"pclass":3,"survived":"No"},{"id":1090,"pclass":3,"survived":"No"},
{"id":1091,"pclass":3,"survived":"No"},{"id":1092,"pclass":3,"survived":"No"},{"id":1093,"pclass":3,"survived":"No"},{"id":1094,"pclass":3,"survived":"No"},{"id":1095,"pclass":3,"survived":"No"},{"id":1096,"pclass":3,"survived":"No"},{"id":1097,"pclass":3,"survived":"No"},{"id":1098,"pclass":3,"survived":"No"},{"id":1099,"pclass":3,"survived":"No"},{"id":1100,"pclass":3,"survived":"No"},
{"id":1101,"pclass":3,"survived":"No"},{"id":1102,"pclass":3,"survived":"No"},{"id":1103,"pclass":3,"survived":"No"},{"id":1104,"pclass":3,"survived":"No"},{"id":1105,"pclass":3,"survived":"No"},{"id":1106,"pclass":3,"survived":"No"},{"id":1107,"pclass":3,"survived":"No"},{"id":1108,"pclass":3,"survived":"No"},{"id":1109,"pclass":3,"survived":"No"},{"id":1110,"pclass":3,"survived":"No"},
{"id":1111,"pclass":3,"survived":"No"},{"id":1112,"pclass":3,"survived":"No"},{"id":1113,"pclass":3,"survived":"No"},{"id":1114,"pclass":3,"survived":"No"},{"id":1115,"pclass":3,"survived":"No"},{"id":1116,"pclass":3,"survived":"No"},{"id":1117,"pclass":3,"survived":"No"},{"id":1118,"pclass":3,"survived":"No"},{"id":1119,"pclass":3,"survived":"No"},{"id":1120,"pclass":3,"survived":"No"},
{"id":1121,"pclass":3,"survived":"No"},{"id":1122,"pclass":3,"survived":"No"},{"id":1123,"pclass":3,"survived":"No"},{"id":1124,"pclass":3,"survived":"No"},{"id":1125,"pclass":3,"survived":"No"},{"id":1126,"pclass":3,"survived":"No"},{"id":1127,"pclass":3,"survived":"No"},{"id":1128,"pclass":3,"survived":"No"},{"id":1129,"pclass":3,"survived":"Yes"},{"id":1130,"pclass":3,"survived":"Yes"},
{"id":1131,"pclass":3,"survived":"Yes"},{"id":1132,"pclass":3,"survived":"Yes"},{"id":1133,"pclass":3,"survived":"Yes"},{"id":1134,"pclass":3,"survived":"Yes"},{"id":1135,"pclass":3,"survived":"Yes"},{"id":1136,"pclass":3,"survived":"Yes"},{"id":1137,"pclass":3,"survived":"Yes"},{"id":1138,"pclass":3,"survived":"Yes"},{"id":1139,"pclass":3,"survived":"Yes"},{"id":1140,"pclass":3,"survived":"Yes"},
{"id":1141,"pclass":3,"survived":"Yes"},{"id":1142,"pclass":3,"survived":"Yes"},{"id":1143,"pclass":3,"survived":"Yes"},{"id":1144,"pclass":3,"survived":"Yes"},{"id":1145,"pclass":3,"survived":"Yes"},{"id":1146,"pclass":3,"survived":"Yes"},{"id":1147,"pclass":3,"survived":"Yes"},{"id":1148,"pclass":3,"survived":"Yes"},{"id":1149,"pclass":3,"survived":"Yes"},{"id":1150,"pclass":3,"survived":"Yes"},
{"id":1151,"pclass":3,"survived":"Yes"},{"id":1152,"pclass":3,"survived":"Yes"},{"id":1153,"pclass":3,"survived":"Yes"},{"id":1154,"pclass":3,"survived":"Yes"},{"id":1155,"pclass":3,"survived":"Yes"},{"id":1156,"pclass":3,"survived":"Yes"},{"id":1157,"pclass":3,"survived":"Yes"},{"id":1158,"pclass":3,"survived":"Yes"},{"id":1159,"pclass":3,"survived":"Yes"},{"id":1160,"pclass":3,"survived":"Yes"},
{"id":1161,"pclass":3,"survived":"Yes"},{"id":1162,"pclass":3,"survived":"Yes"},{"id":1163,"pclass":3,"survived":"Yes"},{"id":1164,"pclass":3,"survived":"Yes"},{"id":1165,"pclass":3,"survived":"Yes"},{"id":1166,"pclass":3,"survived":"Yes"},{"id":1167,"pclass":3,"survived":"Yes"},{"id":1168,"pclass":3,"survived":"Yes"},{"id":1169,"pclass":3,"survived":"Yes"},{"id":1170,"pclass":3,"survived":"Yes"},
{"id":1171,"pclass":3,"survived":"Yes"},{"id":1172,"pclass":3,"survived":"Yes"},{"id":1173,"pclass":3,"survived":"Yes"},{"id":1174,"pclass":3,"survived":"Yes"},{"id":1175,"pclass":3,"survived":"Yes"},{"id":1176,"pclass":3,"survived":"Yes"},{"id":1177,"pclass":3,"survived":"Yes"},{"id":1178,"pclass":3,"survived":"Yes"},{"id":1179,"pclass":3,"survived":"Yes"},{"id":1180,"pclass":3,"survived":"Yes"},
{"id":1181,"pclass":3,"survived":"Yes"},{"id":1182,"pclass":3,"survived":"Yes"},{"id":1183,"pclass":3,"survived":"Yes"},{"id":1184,"pclass":3,"survived":"Yes"},{"id":1185,"pclass":3,"survived":"Yes"},{"id":1186,"pclass":3,"survived":"Yes"},{"id":1187,"pclass":3,"survived":"Yes"},{"id":1188,"pclass":3,"survived":"Yes"},{"id":1189,"pclass":3,"survived":"Yes"},{"id":1190,"pclass":3,"survived":"Yes"},
{"id":1191,"pclass":3,"survived":"Yes"},{"id":1192,"pclass":3,"survived":"Yes"},{"id":1193,"pclass":3,"survived":"Yes"},{"id":1194,"pclass":3,"survived":"Yes"},{"id":1195,"pclass":3,"survived":"Yes"},{"id":1196,"pclass":3,"survived":"Yes"},{"id":1197,"pclass":3,"survived":"Yes"},{"id":1198,"pclass":3,"survived":"Yes"},{"id":1199,"pclass":3,"survived":"Yes"},{"id":1200,"pclass":3,"survived":"Yes"},
{"id":1201,"pclass":3,"survived":"Yes"},{"id":1202,"pclass":3,"survived":"Yes"},{"id":1203,"pclass":3,"survived":"Yes"},{"id":1204,"pclass":3,"survived":"Yes"},{"id":1205,"pclass":3,"survived":"Yes"},{"id":1206,"pclass":3,"survived":"Yes"},{"id":1207,"pclass":3,"survived":"Yes"},{"id":1208,"pclass":3,"survived":"Yes"},{"id":1209,"pclass":3,"survived":"Yes"},{"id":1210,"pclass":3,"survived":"Yes"},
{"id":1211,"pclass":3,"survived":"Yes"},{"id":1212,"pclass":3,"survived":"Yes"},{"id":1213,"pclass":3,"survived":"Yes"},{"id":1214,"pclass":3,"survived":"Yes"},{"id":1215,"pclass":3,"survived":"Yes"},{"id":1216,"pclass":3,"survived":"Yes"},{"id":1217,"pclass":3,"survived":"Yes"},{"id":1218,"pclass":3,"survived":"Yes"},{"id":1219,"pclass":3,"survived":"Yes"},{"id":1220,"pclass":3,"survived":"Yes"},
{"id":1221,"pclass":3,"survived":"Yes"},{"id":1222,"pclass":3,"survived":"Yes"},{"id":1223,"pclass":3,"survived":"Yes"},{"id":1224,"pclass":3,"survived":"Yes"},{"id":1225,"pclass":3,"survived":"Yes"},{"id":1226,"pclass":3,"survived":"Yes"},{"id":1227,"pclass":3,"survived":"Yes"},{"id":1228,"pclass":3,"survived":"Yes"},{"id":1229,"pclass":3,"survived":"Yes"},{"id":1230,"pclass":3,"survived":"Yes"},
{"id":1231,"pclass":3,"survived":"Yes"},{"id":1232,"pclass":3,"survived":"Yes"},{"id":1233,"pclass":3,"survived":"Yes"},{"id":1234,"pclass":3,"survived":"Yes"},{"id":1235,"pclass":3,"survived":"Yes"},{"id":1236,"pclass":3,"survived":"Yes"},{"id":1237,"pclass":3,"survived":"Yes"},{"id":1238,"pclass":3,"survived":"Yes"},{"id":1239,"pclass":3,"survived":"Yes"},{"id":1240,"pclass":3,"survived":"Yes"},
{"id":1241,"pclass":3,"survived":"Yes"},{"id":1242,"pclass":3,"survived":"Yes"},{"id":1243,"pclass":3,"survived":"Yes"},{"id":1244,"pclass":3,"survived":"Yes"},{"id":1245,"pclass":3,"survived":"Yes"},{"id":1246,"pclass":3,"survived":"Yes"},{"id":1247,"pclass":3,"survived":"Yes"},{"id":1248,"pclass":3,"survived":"Yes"},{"id":1249,"pclass":3,"survived":"Yes"},{"id":1250,"pclass":3,"survived":"Yes"},
{"id":1251,"pclass":3,"survived":"Yes"},{"id":1252,"pclass":3,"survived":"Yes"},{"id":1253,"pclass":3,"survived":"Yes"},{"id":1254,"pclass":3,"survived":"Yes"},{"id":1255,"pclass":3,"survived":"Yes"},{"id":1256,"pclass":3,"survived":"Yes"},{"id":1257,"pclass":3,"survived":"Yes"},{"id":1258,"pclass":3,"survived":"Yes"},{"id":1259,"pclass":3,"survived":"Yes"},{"id":1260,"pclass":3,"survived":"Yes"},
{"id":1261,"pclass":3,"survived":"Yes"},{"id":1262,"pclass":3,"survived":"Yes"},{"id":1263,"pclass":3,"survived":"Yes"},{"id":1264,"pclass":3,"survived":"Yes"},{"id":1265,"pclass":3,"survived":"Yes"},{"id":1266,"pclass":3,"survived":"Yes"},{"id":1267,"pclass":3,"survived":"Yes"},{"id":1268,"pclass":3,"survived":"Yes"},{"id":1269,"pclass":3,"survived":"Yes"},{"id":1270,"pclass":3,"survived":"Yes"},
{"id":1271,"pclass":3,"survived":"Yes"},{"id":1272,"pclass":3,"survived":"Yes"},{"id":1273,"pclass":3,"survived":"Yes"},{"id":1274,"pclass":3,"survived":"Yes"},{"id":1275,"pclass":3,"survived":"Yes"},{"id":1276,"pclass":3,"survived":"Yes"},{"id":1277,"pclass":3,"survived":"Yes"},{"id":1278,"pclass":3,"survived":"Yes"},{"id":1279,"pclass":3,"survived":"Yes"},{"id":1280,"pclass":3,"survived":"Yes"},
{"id":1281,"pclass":3,"survived":"Yes"},{"id":1282,"pclass":3,"survived":"Yes"},{"id":1283,"pclass":3,"survived":"Yes"},{"id":1284,"pclass":3,"survived":"Yes"},{"id":1285,"pclass":3,"survived":"Yes"},{"id":1286,"pclass":3,"survived":"Yes"},{"id":1287,"pclass":3,"survived":"Yes"},{"id":1288,"pclass":3,"survived":"Yes"},{"id":1289,"pclass":3,"survived":"Yes"},{"id":1290,"pclass":3,"survived":"Yes"},
{"id":1291,"pclass":3,"survived":"Yes"},{"id":1292,"pclass":3,"survived":"Yes"},{"id":1293,"pclass":3,"survived":"Yes"},{"id":1294,"pclass":3,"survived":"Yes"},{"id":1295,"pclass":3,"survived":"Yes"},{"id":1296,"pclass":3,"survived":"Yes"},{"id":1297,"pclass":3,"survived":"Yes"},{"id":1298,"pclass":3,"survived":"Yes"},{"id":1299,"pclass":3,"survived":"Yes"},{"id":1300,"pclass":3,"survived":"Yes"},
{"id":1301,"pclass":3,"survived":"Yes"},{"id":1302,"pclass":3,"survived":"Yes"},{"id":1303,"pclass":3,"survived":"Yes"},{"id":1304,"pclass":3,"survived":"Yes"},{"id":1305,"pclass":3,"survived":"Yes"},{"id":1306,"pclass":3,"survived":"Yes"},{"id":1307,"pclass":3,"survived":"Yes"},{"id":1308,"pclass":3,"survived":"Yes"},{"id":1309,"pclass":3,"survived":"Yes"}
]},
"transform": [
{"window": [{"op": "row_number", "as": "idx"}], "groupby": ["pclass"], "sort": [{"field": "survived", "order": "ascending"}, {"field": "id", "order": "ascending"}]},
{"joinaggregate": [{"op": "count", "as": "n"}], "groupby": ["pclass"]},
{"calculate": "ceil(sqrt(datum.n / 2))", "as": "cols"},
{"calculate": "(datum.idx - 1) % datum.cols", "as": "col"},
{"calculate": "floor((datum.idx - 1) / datum.cols)", "as": "row"},
{"calculate": "pow(173 / datum.cols, 2)", "as": "dotsize"}
],
"facet": {"column": {"field": "pclass", "type": "ordinal", "header": {"title": "pclass", "titleFontSize": 11, "titleFontWeight": "normal", "titleColor": "#595959", "titlePadding": -8, "labelFontSize": 11, "labelColor": "#777777", "labelPadding": 7}}},
"spacing": 20,
"resolve": {"scale": {"x": "independent", "y": "independent"}},
"spec": {
"width": 173,
"height": 365,
"mark": {"type": "circle", "opacity": 0.95},
"encoding": {
"x": {"field": "col", "type": "ordinal", "axis": null},
"y": {"field": "row", "type": "ordinal", "sort": "descending", "axis": null},
"size": {"field": "dotsize", "type": "quantitative", "scale": null, "legend": null},
"color": {"field": "survived", "type": "nominal", "scale": {"domain": ["No", "Yes"], "range": ["#5B8FF9", "#5AD8A6"]}, "legend": {"orient": "top", "direction": "horizontal", "title": "survived", "titleOrient": "top", "titleFontSize": 12, "titleFontWeight": "bold", "titleColor": "#8c8c8c", "titlePadding": 12, "labelFontSize": 12, "labelColor": "#8c8c8c", "labelOffset": 3, "symbolOffset": -2, "symbolType": "circle", "symbolSize": 49, "symbolOpacity": 0.95, "columnPadding": 10, "offset": 15}}
}
},
"config": {"font": "Liberation Sans", "view": {"stroke": "#595959", "strokeWidth": 1}}
}
